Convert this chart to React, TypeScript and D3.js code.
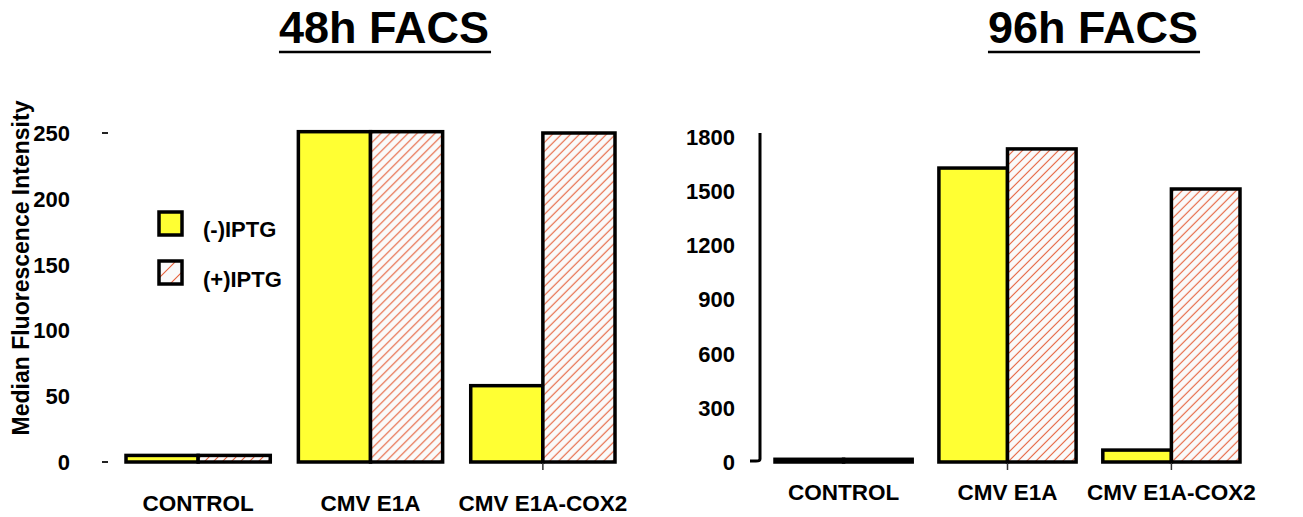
import React, { useEffect, useRef } from 'react';
import * as d3 from 'd3';

const groups = ['CONTROL', 'CMV E1A', 'CMV E1A-COX2'];
const seriesNames = ['(-)IPTG', '(+)IPTG'];

// 48h FACS
const minus48 = [5, 251, 58];
const plus48 = [5, 251, 250];
const yTicks48 = [0, 50, 100, 150, 200, 250];
const yTickMarks48 = [0, 250];
const xTickMarks48 = ['CMV E1A-COX2'];

// 96h FACS
const minus96 = [15, 1628, 66];
const plus96 = [15, 1734, 1512];
const yTicks96 = [0, 300, 600, 900, 1200, 1500, 1800];
const xTickMarks96 = ['CMV E1A', 'CMV E1A-COX2'];

const FONT = '"Liberation Sans", Arial, Helvetica, sans-serif';
const YELLOW = '#ffff33';
const HATCH = '#e5603a';

const W = 1303;
const H = 517;

const App: React.FC = () => {
  const svgRef = useRef<SVGSVGElement>(null);

  useEffect(() => {
    if (!svgRef.current) return;
    const svg = d3.select(svgRef.current);
    svg.selectAll('*').remove();

    svg.append('rect').attr('width', W).attr('height', H).attr('fill', '#fff');

    // hatch patterns
    const defs = svg.append('defs');
    const mkHatch = (id: string, s: number) => {
      const p = defs
        .append('pattern')
        .attr('id', id)
        .attr('patternUnits', 'userSpaceOnUse')
        .attr('width', s)
        .attr('height', s);
      p.append('rect').attr('width', s).attr('height', s).attr('fill', '#fafafa');
      p.append('path')
        .attr('d', `M0,${s} L${s},0 M-2,2 L2,-2 M${s - 2},${s + 2} L${s + 2},${s - 2}`)
        .attr('stroke', HATCH)
        .attr('stroke-width', 1.1);
    };
    mkHatch('hatch', 9);
    mkHatch('hatchLegend', 17);

    const fills = [YELLOW, 'url(#hatch)'];

    const drawPanel = (opts: {
      title: string;
      titleX: number;
      xRange: [number, number];
      yMax: number;
      yRange: [number, number];
      minus: number[];
      plus: number[];
      yTicks: number[];
      labelX: number;
      labelBaseline: number;
      xTickMarks: string[];
    }) => {
      const x0 = d3.scaleBand<string>().domain(groups).range(opts.xRange).paddingInner(0.163).paddingOuter(0);
      const x1 = d3.scaleBand<string>().domain(seriesNames).range([0, x0.bandwidth()]).padding(0);
      const y = d3.scaleLinear().domain([0, opts.yMax]).range(opts.yRange);

      // title
      const t = svg
        .append('text')
        .attr('x', opts.titleX)
        .attr('y', 43)
        .attr('text-anchor', 'middle')
        .style('font-family', FONT)
        .style('font-size', '45px')
        .style('font-weight', 'bold')
        .text(opts.title);
      const bb = (t.node() as SVGTextElement).getBBox();
      svg
        .append('line')
        .attr('x1', bb.x)
        .attr('x2', bb.x + bb.width + 2)
        .attr('y1', 52)
        .attr('y2', 52)
        .attr('stroke', '#000')
        .attr('stroke-width', 2.5);

      // y tick labels
      svg
        .selectAll(null)
        .data(opts.yTicks)
        .enter()
        .append('text')
        .attr('x', opts.labelX)
        .attr('y', d => y(d))
        .attr('dy', '0.36em')
        .attr('text-anchor', 'end')
        .style('font-family', FONT)
        .style('font-size', '22px')
        .style('font-weight', 'bold')
        .text(d => String(d));

      // bars
      const rows = groups.map((g, i) => ({ g, vals: [opts.minus[i], opts.plus[i]] }));
      const gg = svg
        .selectAll(null)
        .data(rows)
        .enter()
        .append('g')
        .attr('transform', d => `translate(${x0(d.g)},0)`);
      gg.selectAll('rect')
        .data(d => d.vals.map((v, j) => ({ v, s: seriesNames[j], j })))
        .enter()
        .append('rect')
        .attr('x', d => x1(d.s)!)
        .attr('width', x1.bandwidth())
        .attr('y', d => y(d.v))
        .attr('height', d => y(0) - y(d.v))
        .attr('fill', d => fills[d.j])
        .attr('stroke', '#000')
        .attr('stroke-width', 3.5);

      // small x tick marks
      svg
        .selectAll(null)
        .data(opts.xTickMarks)
        .enter()
        .append('line')
        .attr('x1', d => x0(d)! + x0.bandwidth() / 2)
        .attr('x2', d => x0(d)! + x0.bandwidth() / 2)
        .attr('y1', y(0) + 1)
        .attr('y2', y(0) + 8)
        .attr('stroke', '#333')
        .attr('stroke-width', 1.5);

      // category labels
      svg
        .selectAll(null)
        .data(groups)
        .enter()
        .append('text')
        .attr('x', d => x0(d)! + x0.bandwidth() / 2)
        .attr('y', opts.labelBaseline)
        .attr('text-anchor', 'middle')
        .style('font-family', FONT)
        .style('font-size', '22.5px')
        .style('font-weight', 'bold')
        .text(d => d);

      return y;
    };

    // left panel
    const yL = drawPanel({
      title: '48h FACS',
      titleX: 384,
      xRange: [126, 615],
      yMax: 250,
      yRange: [462, 133],
      minus: minus48,
      plus: plus48,
      yTicks: yTicks48,
      labelX: 70,
      labelBaseline: 511,
      xTickMarks: xTickMarks48,
    });
    svg
      .selectAll(null)
      .data(yTickMarks48)
      .enter()
      .append('line')
      .attr('x1', 102)
      .attr('x2', 108)
      .attr('y1', d => yL(d))
      .attr('y2', d => yL(d))
      .attr('stroke', '#222')
      .attr('stroke-width', 2);

    // right panel
    const yR = drawPanel({
      title: '96h FACS',
      titleX: 1093,
      xRange: [775, 1240],
      yMax: 1800,
      yRange: [462, 137],
      minus: minus96,
      plus: plus96,
      yTicks: yTicks96,
      labelX: 735,
      labelBaseline: 500,
      xTickMarks: xTickMarks96,
    });
    svg
      .append('path')
      .attr('d', `M760,${yR(1800) - 4} L760,${yR(0) - 3} Q760,${yR(0) - 1} 756,${yR(0) - 1} L750,${yR(0) - 1}`)
      .attr('fill', 'none')
      .attr('stroke', '#000')
      .attr('stroke-width', 3);

    // y axis title
    svg
      .append('text')
      .attr('transform', 'translate(29,268) rotate(-90)')
      .attr('text-anchor', 'middle')
      .style('font-family', FONT)
      .style('font-size', '23px')
      .style('font-weight', 'bold')
      .text('Median Fluorescence Intensity');

    // legend
    const legendFills = [YELLOW, 'url(#hatchLegend)'];
    const lg = svg
      .selectAll(null)
      .data(seriesNames)
      .enter()
      .append('g')
      .attr('transform', (_d, i) => `translate(159,${212 + i * 49})`);
    lg.append('rect')
      .attr('width', 23)
      .attr('height', 23)
      .attr('fill', (_d, i) => legendFills[i])
      .attr('stroke', '#000')
      .attr('stroke-width', 3.5);
    lg.append('text')
      .attr('x', 44)
      .attr('y', (_d, i) => 25 + i * 1)
      .style('font-family', FONT)
      .style('font-size', '22px')
      .style('font-weight', 'bold')
      .text(d => d);
  }, []);

  return (
    <svg
      ref={svgRef}
      width={W}
      height={H}
      style={{ position: 'absolute', left: 0, top: 0, display: 'block' }}
    />
  );
};

export default App;
